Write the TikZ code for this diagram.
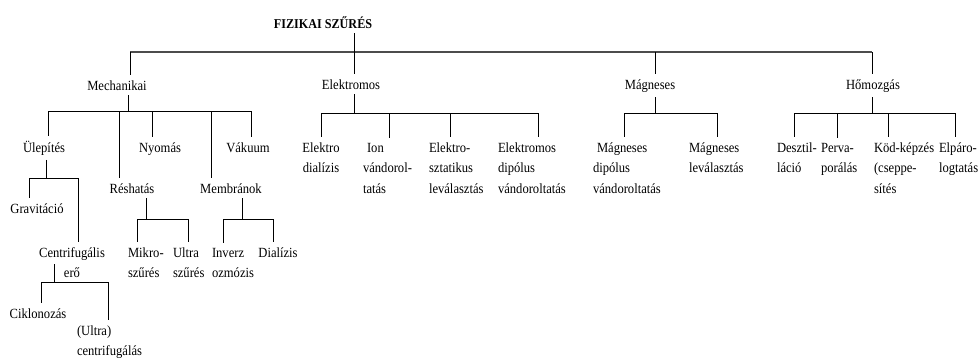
\documentclass[tikz,border=0pt]{standalone}
\usepackage{fontspec}
\setmainfont{Liberation Serif}[FakeStretch=0.9]
\begin{document}
\begin{tikzpicture}[x=1pt,y=-1pt,
    every node/.style={inner sep=2pt,outer sep=3pt,font=\fontsize{14}{20.5}\selectfont},
    ag/.style={line width=0.8pt},
    fo/.style={line width=1.3pt,black!70}]
    \useasboundingbox (0,0) rectangle (979,360);
    % cim es fo agak
    \node[anchor=base,font=\bfseries\fontsize{13.5}{15}\selectfont] (fiz) at (323,28) {FIZIKAI SZŰRÉS};
    \node[anchor=base] (mech) at (117,90) {Mechanikai};
    \node[anchor=base] (elek) at (351,89) {Elektromos};
    \node[anchor=base] (magn) at (650,89) {Mágneses};
    \node[anchor=base] (hom) at (873,89) {Hőmozgás};
    \coordinate (fMech) at (130,52);
    \coordinate (fElek) at (354,52);
    \coordinate (fMagn) at (655,52);
    \coordinate (fHom) at (872,52);
    \draw[fo] (fMech) -- (fHom);
    \draw[ag] (fiz.south -| fElek) -- (fElek);
    \foreach \c/\n in {fMech/mech, fElek/elek, fMagn/magn, fHom/hom}
        \draw[ag] (\c) -- (\c |- \n.north);

    % mechanikai
    \node[anchor=base] (ulep) at (44,152) {Ülepítés};
    \node[anchor=base] (nyom) at (160,152) {Nyomás};
    \node[anchor=base] (vak) at (248,152) {Vákuum};
    \node[anchor=base] (res) at (132,193) {Réshatás};
    \node[anchor=base] (memb) at (231,193) {Membránok};
    \coordinate (mBar) at (128,111);
    \coordinate (mUlep) at (48,111);
    \coordinate (mRes) at (119,111);
    \coordinate (mNyom) at (152,111);
    \coordinate (mMemb) at (211,111);
    \coordinate (mVak) at (251,111);
    \draw[ag] (mech.south -| mBar) -- (mBar);
    \draw[ag] (mUlep) -- (mVak);
    \foreach \c/\n in {mUlep/ulep, mRes/res, mNyom/nyom, mMemb/memb, mVak/vak}
        \draw[ag] (\c) -- (\c |- \n.north);

    % ulepites (a tobbsoros csomopontok alapvonala az utolso sor)
    \node[anchor=base] (grav) at (37,213) {Gravitáció};
    \node[anchor=base,align=center] (cent) at (72,277.5) {Centrifugális\\erő};
    \coordinate (uBar) at (46,178);
    \coordinate (uGrav) at (29,178);
    \coordinate (uCent) at (78,178);
    \draw[ag] (ulep.south -| uBar) -- (uBar);
    \draw[ag] (uGrav) -- (uCent);
    \foreach \c/\n in {uGrav/grav, uCent/cent}
        \draw[ag] (\c) -- (\c |- \n.north);

    % centrifugalis ero
    \node[anchor=base] (cikl) at (38,318) {Ciklonozás};
    \node[anchor=base west,align=left] (ucent) at (72,355.5) {(Ultra)\\centrifugálás};
    \coordinate (cBar) at (54,282);
    \coordinate (cCikl) at (41,282);
    \coordinate (cUcent) at (108,282);
    \draw[ag] (cent.base -| cBar) ++(0,-13.5) -- (cBar);
    \draw[ag] (cCikl) -- (cUcent);
    \foreach \c/\n in {cCikl/cikl, cUcent/ucent}
        \draw[ag] (\c) -- (\c |- \n.north);

    % reshatas, membranok
    \node[anchor=base west,align=left] (mikro) at (123,277.5) {Mikro-\\szűrés};
    \node[anchor=base west,align=left] (ultra) at (168,277.5) {Ultra\\szűrés};
    \node[anchor=base west,align=left] (inv) at (207,277.5) {Inverz\\ozmózis};
    \node[anchor=base] (dial) at (278,257) {Dialízis};
    \coordinate (rBar) at (146,219);
    \coordinate (rMikro) at (137,219);
    \coordinate (rUltra) at (188,219);
    \coordinate (bBar) at (242,219);
    \coordinate (bInv) at (223,219);
    \coordinate (bDial) at (273,219);
    \draw[ag] (res.south -| rBar) -- (rBar);
    \draw[ag] (rMikro) -- (rUltra);
    \draw[ag] (memb.south -| bBar) -- (bBar);
    \draw[ag] (bInv) -- (bDial);
    \foreach \c/\n in {rMikro/mikro, rUltra/ultra, bInv/inv, bDial/dial}
        \draw[ag] (\c) -- (\c |- \n.north);

    % elektromos
    \node[anchor=base,align=center] (edial) at (321,172.5) {Elektro\\dialízis};
    \node[anchor=base west,align=left] (ion) at (358,193) {\hspace*{4pt}Ion\\vándorol-\\tatás};
    \node[anchor=base west,align=left] (eszt) at (424,193) {Elektro-\\sztatikus\\leválasztás};
    \node[anchor=base west,align=left] (edip) at (493,193) {Elektromos\\dipólus\\vándoroltatás};
    \coordinate (eBar) at (354,113);
    \coordinate (eDial) at (321,113);
    \coordinate (eIon) at (389,113);
    \coordinate (eSzt) at (450,113);
    \coordinate (eDip) at (538,113);
    \draw[ag] (elek.south -| eBar) -- (eBar);
    \draw[ag] (eDial) -- (eDip);
    \foreach \c/\n in {eDial/edial, eIon/ion, eSzt/eszt, eDip/edip}
        \draw[ag] (\c) -- (\c |- \n.north);

    % magneses
    \node[anchor=base west,align=left] (mdip) at (588,193) {\hspace*{4pt}Mágneses\\dipólus\\vándoroltatás};
    \node[anchor=base west,align=left] (mlev) at (684,172.5) {Mágneses\\leválasztás};
    \coordinate (gBar) at (655,113);
    \coordinate (gDip) at (624,113);
    \coordinate (gLev) at (717,113);
    \draw[ag] (magn.south -| gBar) -- (gBar);
    \draw[ag] (gDip) -- (gLev);
    \foreach \c/\n in {gDip/mdip, gLev/mlev}
        \draw[ag] (\c) -- (\c |- \n.north);

    % homozgas
    \node[anchor=base west,align=left] (deszt) at (772,172.5) {Desztil-\\láció};
    \node[anchor=base west,align=left] (perva) at (816,172.5) {Perva-\\porálás};
    \node[anchor=base west,align=left] (kod) at (869,193) {Köd-képzés\\(cseppe-\\sítés};
    \node[anchor=base west,align=left] (elpar) at (934,172.5) {Elpáro-\\logtatás};
    \coordinate (hBar) at (872,113);
    \coordinate (hDeszt) at (794,113);
    \coordinate (hPerva) at (837,113);
    \coordinate (hKod) at (888,113);
    \coordinate (hElpar) at (955,113);
    \draw[ag] (hom.south -| hBar) -- (hBar);
    \draw[ag] (hDeszt) -- (hElpar);
    \foreach \c/\n in {hDeszt/deszt, hPerva/perva, hKod/kod, hElpar/elpar}
        \draw[ag] (\c) -- (\c |- \n.north);
\end{tikzpicture}
\end{document}
